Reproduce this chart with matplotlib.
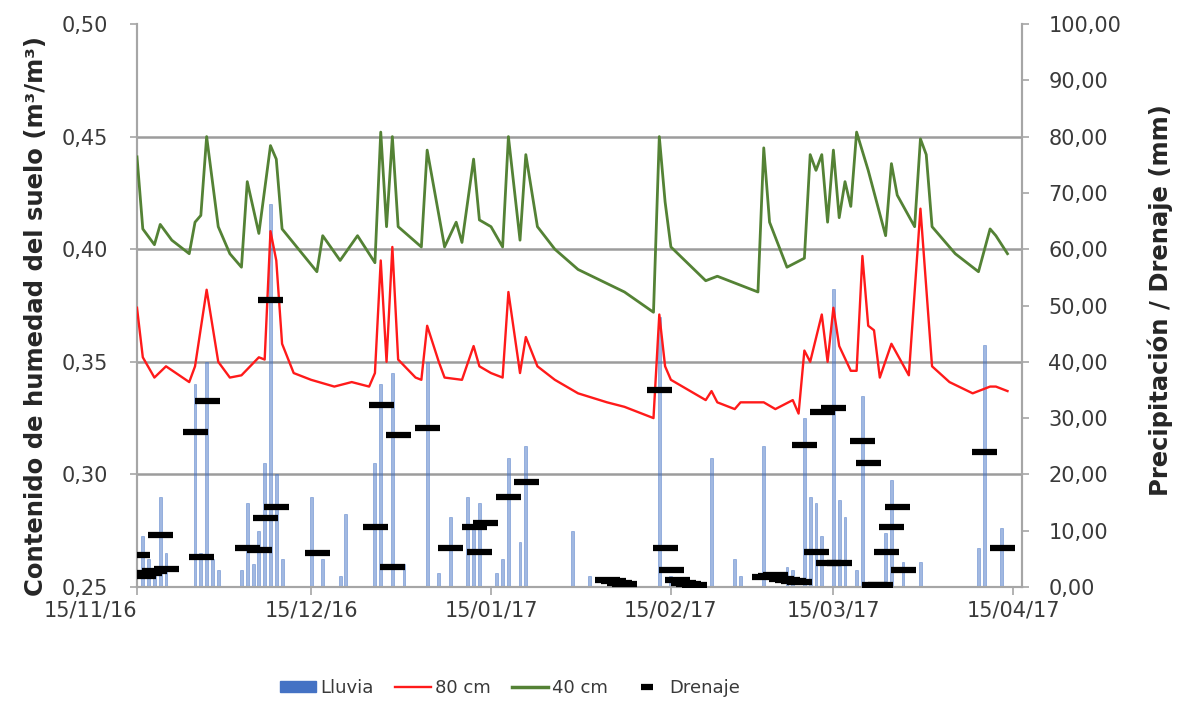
import matplotlib
matplotlib.use("Agg")

import matplotlib.pyplot as plt
import matplotlib.dates as mdates
from matplotlib.lines import Line2D
from matplotlib.patches import Patch
from matplotlib.ticker import FuncFormatter
import pandas as pd

# ── data (days counted from 15/11/2016) ─────────────────────────────────
START = "2016-11-15"

days_40cm = [0, 1, 3, 4, 6, 9, 10, 11, 12, 14, 16, 18, 19, 21, 23, 24, 25, 31,
             32, 35, 38, 41, 42, 43, 44, 45, 49, 50, 53, 55, 56, 58, 59, 61, 63,
             64, 66, 67, 69, 72, 76, 80, 84, 89, 90, 91, 92, 98, 100, 101, 107,
             108, 109, 112, 115, 116, 117, 118, 119, 120, 121, 122, 123, 124,
             126, 129, 130, 131, 134, 135, 136, 137, 141, 145, 147, 148, 150]
hum_40cm = [0.441, 0.409, 0.402, 0.411, 0.404, 0.398, 0.412, 0.415, 0.450,
            0.410, 0.398, 0.392, 0.430, 0.407, 0.446, 0.440, 0.409, 0.390,
            0.406, 0.395, 0.406, 0.394, 0.452, 0.410, 0.450, 0.410, 0.401,
            0.444, 0.401, 0.412, 0.403, 0.440, 0.413, 0.410, 0.401, 0.450,
            0.404, 0.442, 0.410, 0.400, 0.391, 0.386, 0.381, 0.372, 0.450,
            0.421, 0.401, 0.386, 0.388, 0.387, 0.381, 0.445, 0.412, 0.392,
            0.396, 0.442, 0.435, 0.442, 0.412, 0.444, 0.414, 0.430, 0.419,
            0.452, 0.435, 0.406, 0.438, 0.424, 0.410, 0.449, 0.442, 0.410,
            0.398, 0.390, 0.409, 0.406, 0.398]

days_80cm = [0, 1, 3, 5, 9, 10, 12, 14, 16, 18, 21, 22, 23, 24, 25, 27, 30,
             34, 37, 40, 41, 42, 43, 44, 45, 48, 49, 50, 52, 53, 56, 58, 59,
             61, 63, 64, 66, 67, 69, 72, 76, 81, 84, 89, 90, 91, 92, 98, 99,
             100, 103, 104, 108, 110, 113, 114, 115, 116, 118, 119, 120, 121,
             123, 124, 125, 126, 127, 128, 130, 133, 135, 137, 140, 144, 147,
             148, 150]
hum_80cm = [0.374, 0.352, 0.343, 0.348, 0.341, 0.348, 0.382, 0.350, 0.343,
            0.344, 0.352, 0.351, 0.408, 0.395, 0.358, 0.345, 0.342, 0.339,
            0.341, 0.339, 0.345, 0.395, 0.350, 0.401, 0.351, 0.343, 0.342,
            0.366, 0.350, 0.343, 0.342, 0.357, 0.348, 0.345, 0.343, 0.381,
            0.345, 0.361, 0.348, 0.342, 0.336, 0.332, 0.330, 0.325, 0.371,
            0.348, 0.342, 0.333, 0.337, 0.332, 0.329, 0.332, 0.332, 0.329,
            0.333, 0.327, 0.355, 0.350, 0.371, 0.350, 0.374, 0.357, 0.346,
            0.346, 0.397, 0.366, 0.364, 0.343, 0.358, 0.344, 0.418, 0.348,
            0.341, 0.336, 0.339, 0.339, 0.337]

rain_days = [1, 2, 3, 4, 5, 10, 11, 12, 13, 14, 18, 19, 20, 21, 22, 23, 24, 25,
             30, 32, 35, 36, 41, 42, 44, 46, 50, 52, 54, 57, 58, 59, 62, 63, 64,
             66, 67, 75, 78, 83, 90, 92, 99, 103, 104, 108, 112, 113, 115, 116,
             117, 118, 120, 121, 122, 124, 125, 129, 130, 132, 135, 145, 146,
             149]
rain_mm = [9, 5, 3, 16, 6, 36, 6, 40, 5, 3, 3, 15, 4, 10, 22, 68, 20, 5,
           16, 5, 2, 13, 22, 36, 38, 4, 40, 2.5, 12.5, 16, 11, 15, 2.5, 5, 23,
           8, 25, 10, 2, 1, 48, 2, 23, 5, 2, 25, 3.5, 3, 30, 16,
           15, 9, 53, 15.5, 12.5, 3, 34, 9.6, 19, 4.4, 4.4, 7, 43,
           10.5]

drain_days = [0, 1, 2, 3, 4, 5, 10, 11, 12, 19, 21, 22, 23, 24, 31, 41, 42, 44,
              45, 50, 54, 58, 59, 60, 64, 67, 81, 82, 83, 84, 90, 91, 92, 93,
              94, 95, 96, 108, 109, 110, 111, 112, 113, 114, 115, 117, 118,
              119, 120, 121, 125, 126, 127, 128, 129, 130, 131, 132, 146, 149]
drain_mm = [5.7, 2.0, 2.5, 2.8, 9.2, 3.2, 27.6, 5.3, 33, 6.9, 6.5, 12.3, 51,
            14.2, 6, 10.7, 32.4, 3.6, 27, 28.3, 6.9, 10.7, 6.2, 11.4, 16, 18.7,
            1.3, 1.0, 0.7, 0.5, 35, 6.9, 3, 1.2, 0.7, 0.5, 0.4, 1.8, 2.0, 2.1,
            1.5, 1.2, 1.0, 0.9, 25.2, 6.2, 31, 4.3, 31.8, 4.3, 26, 22, 0.4,
            0.4, 6.2, 10.7, 14.2, 3, 24, 6.9]

tick_dates = ["2016-11-15", "2016-12-15", "2017-01-15", "2017-02-15",
              "2017-03-15", "2017-04-15"]

# ── style ───────────────────────────────────────────────────────────────
GREEN = "#548235"
RED = "#FF1A1A"
BLUE = "#4472C4"
GRID = "#9c9c9c"
SPINE = "#a6a6a6"
TXT = "#3a3a3a"

plt.rcParams["font.family"] = "DejaVu Sans"


def to_dates(days):
    return pd.Timestamp(START) + pd.to_timedelta(days, unit="D")


def comma(fmt):
    return FuncFormatter(lambda v, _: fmt.format(v).replace(".", ","))


fig = plt.figure(figsize=(11.79, 7.15), dpi=100)
ax = fig.add_axes([137 / 1179, 1 - 587 / 715, 885 / 1179, 563 / 715])
ax2 = ax.twinx()   # rain bars + right axis
ax3 = ax.twinx()   # drainage dashes on top

ax2.set_zorder(1)
ax.set_zorder(2)
ax3.set_zorder(3)
ax2.patch.set_visible(True)
ax2.patch.set_facecolor("white")
ax.patch.set_visible(False)
ax3.patch.set_visible(False)

# rain bars
ax2.bar(to_dates(rain_days), rain_mm, width=0.5, color=BLUE, alpha=0.5,
        edgecolor=BLUE, linewidth=0.6, zorder=3)

# soil moisture lines
ax.plot(to_dates(days_80cm), hum_80cm, color=RED, lw=1.7, zorder=3)
ax.plot(to_dates(days_40cm), hum_40cm, color=GREEN, lw=2.0, zorder=3)

# drainage
ax3.plot(to_dates(drain_days), drain_mm, linestyle="none", marker="_",
         markersize=18, mew=4.5, color="black")

# ── axes ────────────────────────────────────────────────────────────────
x0 = pd.Timestamp(START)
for a in (ax, ax2, ax3):
    a.set_xlim(x0, x0 + pd.Timedelta(days=152.5))

ax.set_ylim(0.25, 0.50)
ax.set_yticks([0.25, 0.30, 0.35, 0.40, 0.45, 0.50])
ax.yaxis.set_major_formatter(comma("{:.2f}"))
ax2.set_ylim(0, 100)
ax3.set_ylim(0, 100)
ax3.axis("off")

ax2.set_yticks(range(0, 101, 20))
ax2.set_yticks(range(10, 100, 20), minor=True)
ax2.yaxis.set_major_formatter(comma("{:.2f}"))
ax2.yaxis.set_minor_formatter(comma("{:.2f}"))
ax2.grid(axis="y", which="major", color=GRID, lw=1.8, zorder=0)
ax2.set_axisbelow(True)
for line, t in zip(ax2.yaxis.get_gridlines(), ax2.get_yticks()):
    if t <= 0 or t >= 100:
        line.set_visible(False)

ax.set_xticks(pd.to_datetime(tick_dates))
ax.xaxis.set_major_formatter(mdates.DateFormatter("%d/%m/%y"))
ax.xaxis.get_major_ticks()[0].label1.set_horizontalalignment("right")

ax.tick_params(axis="y", labelsize=15, colors=TXT, length=5, width=1.2,
               pad=16, color=SPINE)
ax.tick_params(axis="x", labelsize=15, colors=TXT, length=6, width=1.2,
               pad=4, color=SPINE)
ax2.tick_params(axis="y", which="both", labelsize=15, colors=TXT, length=5,
                width=1.2, pad=14, color=SPINE)

for a in (ax, ax2):
    a.spines["top"].set_visible(False)
    for s in ("left", "right", "bottom"):
        a.spines[s].set_color(SPINE)
        a.spines[s].set_linewidth(1.5)

fig.text(36 / 1179, 1 - 316 / 715,
         "Contenido de humedad del suelo (m³/m³)",
         rotation=90, ha="center", va="center", fontsize=17.5,
         fontweight="bold", color="#262626")
fig.text(1160 / 1179, 1 - 300 / 715, "Precipitación / Drenaje (mm)",
         rotation=90, ha="center", va="center", fontsize=17.5,
         fontweight="bold", color="#262626")

# ── legend ──────────────────────────────────────────────────────────────
handles = [
    Patch(facecolor=BLUE, edgecolor=BLUE),
    Line2D([], [], color=RED, lw=1.7),
    Line2D([], [], color=GREEN, lw=2.5),
    Line2D([], [], color="black", marker="_", markersize=8, mew=4.5,
           linestyle="none"),
]
fig.legend(handles, ["Lluvia", "80 cm", "40 cm", "Drenaje"],
           loc="center", bbox_to_anchor=(510 / 1179, 1 - 688 / 715),
           ncol=4, frameon=False, fontsize=13, handlelength=2.0,
           handleheight=0.6, handletextpad=0.2, columnspacing=1.2,
           labelcolor=TXT)

fig.savefig("out.png", dpi=100)
